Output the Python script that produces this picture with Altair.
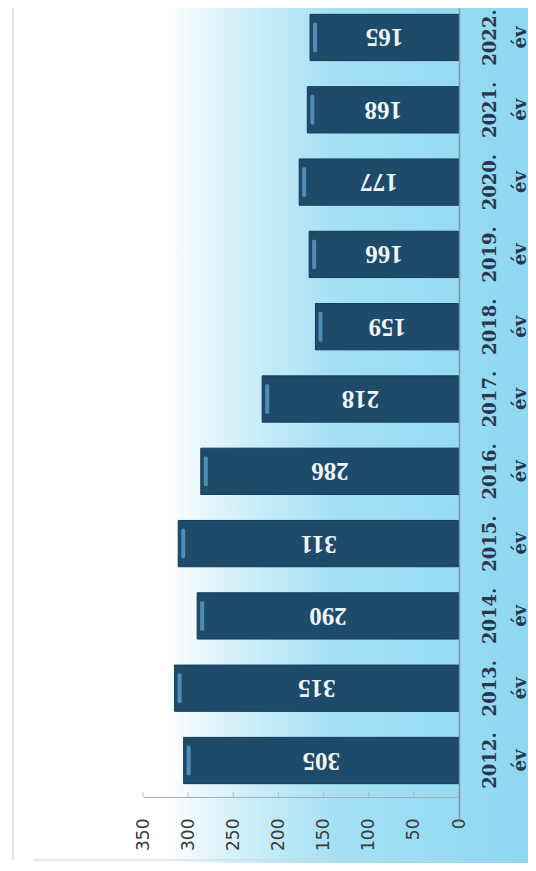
import altair as alt
import pandas as pd

years = ["2012", "2013", "2014", "2015", "2016", "2017", "2018", "2019", "2020", "2021", "2022"]
values = [305, 315, 290, 311, 286, 218, 159, 166, 177, 168, 165]
x_ticks = [0, 50, 100, 150, 200, 250, 300, 350]

df = pd.DataFrame({"year": years, "value": values})
ticks_df = pd.DataFrame({"t": x_ticks})

W, H = 316, 789
order = years[::-1]

yscale = alt.Scale(domain=order, range=[-29.8, 811.8], paddingInner=0.36, paddingOuter=0.5)
xscale = alt.Scale(domain=[0, 350], reverse=True, nice=False)

bg = alt.Chart(pd.DataFrame({"d": [0]})).mark_rect(
    color=alt.Gradient(
        gradient="linear",
        stops=[
            alt.GradientStop(color="#ffffff", offset=0.0),
            alt.GradientStop(color="#ffffff", offset=0.30),
            alt.GradientStop(color="#d3f0fa", offset=0.44),
            alt.GradientStop(color="#a4e0f4", offset=0.63),
            alt.GradientStop(color="#8fd8f0", offset=1.0),
        ],
        x1=0, x2=1, y1=0, y2=0,
    )
).encode(
    x=alt.value(-135), x2=alt.value(385), y=alt.value(-8), y2=alt.value(863)
)

edge_left = alt.Chart(pd.DataFrame({"d": [0]})).mark_rule(color="#c8c8c8", strokeWidth=1).encode(
    x=alt.value(-130), y=alt.value(-8), y2=alt.value(852)
)
edge_bottom = alt.Chart(pd.DataFrame({"d": [0]})).mark_rule(color="#d0d0d0", strokeWidth=1).encode(
    x=alt.value(-110), x2=alt.value(316), y=alt.value(852)
)

base = alt.Chart(df)

bars = base.mark_bar(color="#1f4b6b", stroke="#163a54", strokeWidth=1).encode(
    y=alt.Y("year:N", scale=yscale, sort=order,
            axis=alt.Axis(orient="right", title=None, ticks=False, domain=True,
                          domainColor="#7f95a3", domainWidth=1.5, zindex=1,
                          labelExpr="[datum.value + '.', 'év']",
                          labelAngle=270, labelAlign="center", labelBaseline="top",
                          labelPadding=22, labelLineHeight=30,
                          labelFont="DejaVu Serif", labelFontWeight="bold",
                          labelFontSize=18, labelColor="#2b3550")),
    x=alt.X("value:Q", scale=xscale,
            axis=alt.Axis(title=None, values=x_ticks, grid=False, ticks=False, zindex=1,
                          domainColor="#9fb0bb", labelAngle=270, labelAlign="right",
                          labelBaseline="middle", labelPadding=21,
                          labelFont="DejaVu Sans", labelFontSize=17,
                          labelColor="#3a3a3a")),
)

axis_ticks = alt.Chart(ticks_df).mark_tick(color="#9fb0bb", thickness=1, size=5, orient="vertical").encode(
    x=alt.X("t:Q", scale=xscale),
    y=alt.value(H - 2.5),
)

highlight = base.mark_tick(color="#5b9ec4", thickness=4, size=30, opacity=0.8,
                           xOffset=5, cornerRadius=2).encode(
    y=alt.Y("year:N", scale=yscale, sort=order),
    x=alt.X("value:Q", scale=xscale),
)

labels = base.transform_calculate(mid="datum.value / 2").mark_text(
    angle=180, font="Liberation Serif", fontWeight="bold", fontSize=25,
    color="#eef4f8", align="center", baseline="middle"
).encode(
    y=alt.Y("year:N", scale=yscale, sort=order),
    x=alt.X("mid:Q", scale=xscale),
    text=alt.Text("value:Q"),
)

chart = alt.layer(bg, edge_left, edge_bottom, axis_ticks, bars, highlight, labels).properties(
    width=W, height=H,
    autosize=alt.AutoSizeParams(type="none"),
    padding={"left": 135, "top": 0, "right": 69, "bottom": 66},
).configure_view(stroke=None)

chart.save("out.html", embed_options={"renderer": "svg", "actions": False})
